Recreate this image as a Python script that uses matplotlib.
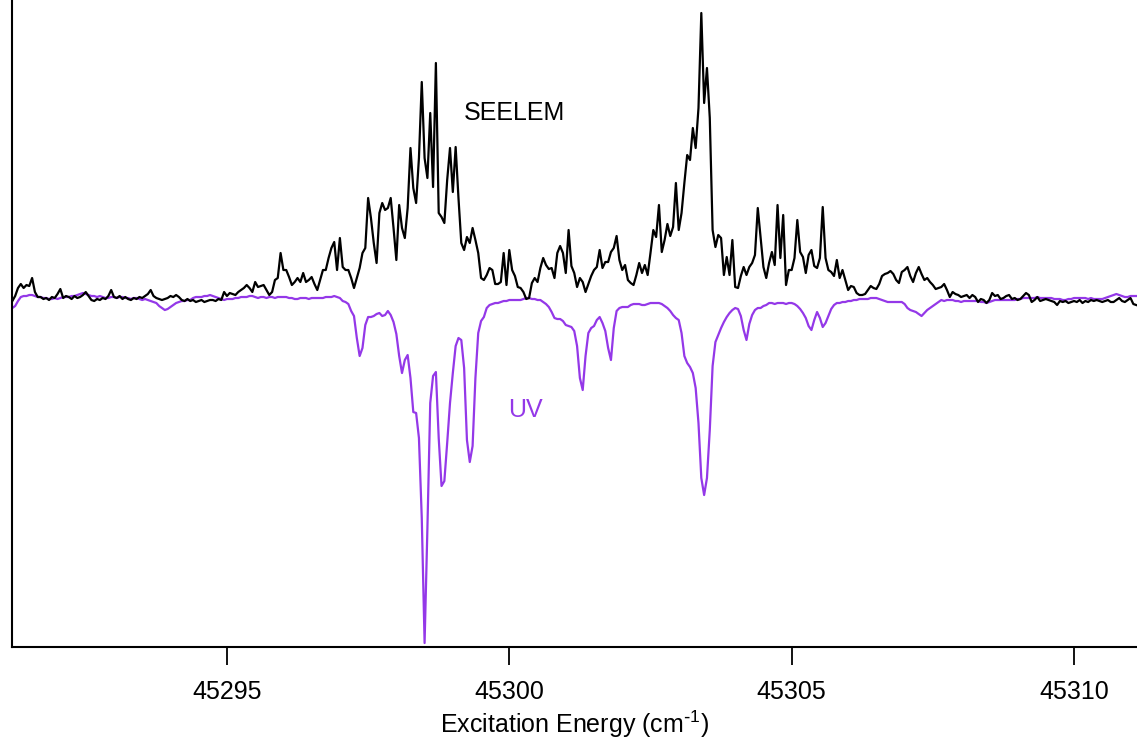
import numpy as np
import matplotlib
matplotlib.use('Agg')
import matplotlib.pyplot as plt

# x grid of the scan (cm^-1), 0.05 cm^-1 steps
x_start = 45291.2
x_step = 0.05

# SEELEM signal (arb. units), one row per cm^-1
seelem = [
    -3, 2, 10, 14, 10, 13, 12, 20, 6, 1, 1, -1, 0, -2, 1, 0, 4, 9, 0, 2,
    1, -1, 2, 0, 1, 3, 6, 2, -2, -3, -1, -2, 0, -1, 2, 8, 1, 0, 2, -1,
    1, -1, -2, 0, -1, 1, 0, 2, 4, 8, 2, 0, -1, -2, -1, 0, 2, 1, 3, 1,
    -2, -3, -1, -3, -2, -4, -3, -2, -4, -3, -2, -2, -3, -1, -2, 6, 2, 5, 4, 3,
    6, 8, 10, 13, 10, 6, 16, 11, 12, 13, 8, 3, 6, 18, 20, 45, 28, 28, 21, 13,
    16, 20, 16, 25, 16, 18, 21, 14, 8, 18, 28, 28, 40, 50, 56, 28, 60, 31, 28, 28,
    20, 10, 20, 30, 45, 50, 100, 80, 55, 35, 85, 95, 88, 90, 100, 70, 38, 93, 70, 60,
    90, 150, 110, 95, 140, 216, 140, 120, 185, 111, 235, 85, 81, 75, 118, 150, 106, 151, 100, 55,
    48, 61, 55, 70, 58, 45, 20, 18, 23, 30, 28, 14, 14, 16, 45, 13, 48, 28, 22, 11,
    10, 6, -1, 0, 15, 20, 16, 30, 40, 33, 29, 30, 20, 45, 52, 45, 25, 68, 32, 25,
    11, 20, 16, 6, 14, 22, 28, 31, 48, 30, 36, 36, 46, 50, 62, 38, 28, 33, 18, 15,
    13, 23, 35, 25, 33, 23, 45, 68, 61, 93, 46, 58, 74, 62, 71, 115, 68, 85, 115, 143,
    138, 170, 150, 190, 285, 195, 230, 180, 68, 51, 63, 60, 23, 41, 23, 58, 11, 10, 22, 31,
    23, 31, 35, 43, 90, 60, 31, 20, 35, 46, 33, 93, 40, 83, 13, 28, 28, 40, 78, 46,
    41, 25, 43, 48, 32, 30, 40, 91, 40, 28, 26, 22, 38, 20, 28, 18, 8, 12, 11, 5,
    3, 3, 4, 8, 12, 10, 9, 14, 22, 24, 25, 27, 24, 18, 15, 26, 28, 31, 22, 16,
    25, 31, 24, 18, 20, 16, 13, 9, 10, 11, 14, 8, 1, 6, 4, 3, 1, 2, 3, 0,
    3, 1, -4, -1, -2, -5, -2, 5, 2, 3, -1, 0, 2, 3, -1, 0, -2, -1, 2, 5,
    3, -4, -2, 1, -3, -2, -1, -2, -3, -4, -7, -3, -4, -3, -5, -4, -3, -4, -2, -5,
    -3, -4, -2, -3, -2, -3, -4, -3, -2, -4, -4, -2, 0, -3, -4, -2, 0, -6, -7,
]

# UV absorption trace (arb. units, drawn downwards), same grid
uv = [
    -10, -8, -3, 1, 2, 2, 3, 3, 2, 1, 1, 0, 0, -1, -1, 0, -1, 0, 1, 1,
    1, 2, 2, 3, 4, 5, 4, 3, 2, 2, 1, 2, 1, 0, 0, 1, 1, 0, 1, 1,
    0, 0, -1, 0, 0, -1, -2, -1, -2, -3, -4, -5, -8, -10, -12, -11, -9, -7, -5, -4,
    -3, -3, -2, -2, 0, 1, 1, 1, 2, 2, 3, 2, 1, 0, -1, -2, -1, -1, -1, 0,
    0, 1, 1, 1, 2, 2, 1, 0, 1, 1, 0, 1, 1, 0, 1, 1, 1, 1, 0, 0,
    -1, -1, 0, 0, 0, -1, 0, 0, 0, 0, 0, 1, 1, 1, 2, 1, 0, -3, -4, -6,
    -13, -18, -40, -58, -50, -27, -19, -19, -18, -16, -15, -18, -17, -13, -17, -24, -36, -58, -75, -62,
    -57, -80, -114, -115, -140, -220, -345, -230, -105, -78, -74, -140, -188, -183, -145, -105, -75, -48, -40, -42,
    -70, -142, -164, -148, -80, -35, -23, -19, -10, -7, -6, -5, -5, -4, -3, -3, -2, -2, -2, -2,
    -2, -1, 0, 0, -1, -1, -2, -2, -4, -6, -9, -14, -20, -21, -21, -23, -27, -28, -29, -33,
    -48, -80, -92, -58, -35, -30, -28, -22, -19, -25, -33, -50, -62, -30, -13, -10, -9, -9, -9, -7,
    -6, -6, -6, -7, -7, -6, -5, -5, -5, -5, -6, -8, -10, -13, -17, -20, -22, -35, -58, -65,
    -69, -75, -90, -125, -180, -197, -180, -132, -68, -44, -37, -30, -24, -19, -15, -12, -10, -11, -18, -32,
    -42, -26, -17, -12, -10, -10, -8, -7, -5, -5, -6, -5, -5, -5, -6, -5, -5, -6, -8, -11,
    -15, -20, -28, -32, -22, -14, -20, -29, -25, -18, -11, -7, -5, -5, -4, -4, -3, -3, -2, -2,
    -1, -1, -1, -1, 0, 0, 0, -1, -2, -3, -4, -4, -4, -4, -4, -4, -6, -10, -12, -13,
    -14, -16, -18, -15, -12, -10, -8, -6, -4, -2, -3, -2, -2, -2, -3, -3, -4, -3, -3, -3,
    -3, -3, -3, -4, -4, -5, -4, -3, -2, -2, -2, -2, -2, -2, -2, -2, -1, -1, 0, 0,
    0, 0, 0, 1, 0, 0, 0, 0, 0, -1, -1, -1, -2, -2, -1, -1, 0, 0, 0, 0,
    0, -1, 0, -1, -1, -1, -1, 0, 1, 2, 3, 4, 3, 2, 1, 1, 2, 2, 2,
]

x_ticks = [45295, 45300, 45305, 45310]
x_limits = (45291.195, 45311.115)
y_limits = (-349, 298)

seelem_color = 'black'
uv_color = '#9438e8'


def plot_spectra():
    """
    Draws the SEELEM spectrum and the (inverted) UV spectrum on one axis.
    :return: None
    """
    plt.rcParams['font.family'] = ['Liberation Sans', 'DejaVu Sans']
    plt.rcParams['mathtext.default'] = 'regular'

    x = x_start + x_step * np.arange(len(seelem))
    x_uv = x_start + x_step * np.arange(len(uv))

    fig = plt.figure(figsize=(11.37, 7.42), dpi=100)
    ax = fig.add_axes([0.0106, 0.128, 0.9894, 0.872])

    ax.plot(x_uv, uv, color=uv_color, lw=1.6)
    ax.plot(x, seelem, color=seelem_color, lw=1.6)

    ax.text(45299.195, 185, 'SEELEM', fontsize=18, color=seelem_color,
            ha='left', va='center')
    ax.text(45299.974, -112, 'UV', fontsize=18, color=uv_color,
            ha='left', va='center')

    ax.set_xlim(*x_limits)
    ax.set_ylim(*y_limits)
    ax.set_xticks(x_ticks)
    ax.set_xticklabels([str(t) for t in x_ticks])
    ax.set_yticks([])
    ax.tick_params(axis='x', direction='out', length=13, width=1.3,
                   labelsize=18, pad=11)
    ax.set_xlabel(r'Excitation Energy (cm$^{\text{-}1}$)', fontsize=18,
                  labelpad=3)

    for side in ('top', 'right'):
        ax.spines[side].set_visible(False)
    for side in ('left', 'bottom'):
        ax.spines[side].set_linewidth(1.5)

    fig.savefig('out.png', dpi=100)


plot_spectra()
